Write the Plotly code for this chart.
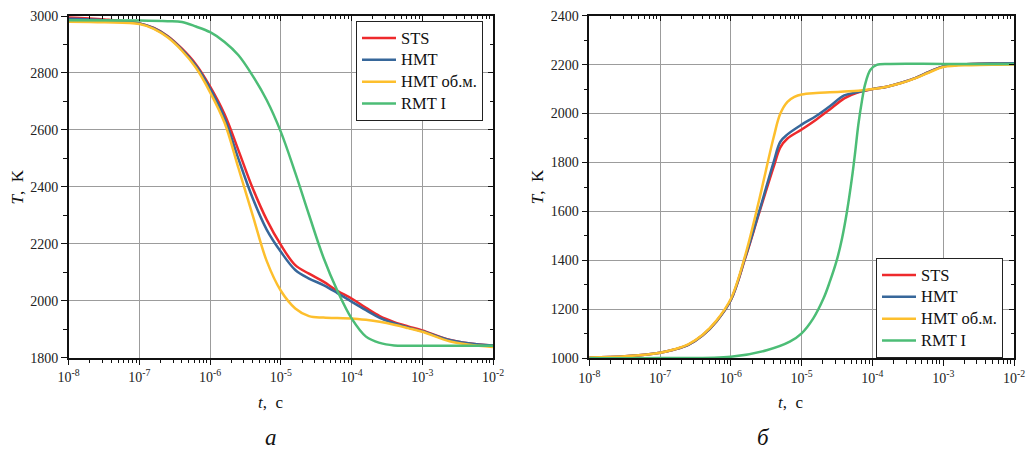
import plotly.graph_objects as go

# common time grid (s) for the three close curves in both panels
t_grid = [1e-8, 3.2e-8, 1e-7, 1.6e-7, 2.5e-7, 4e-7, 6.3e-7, 1e-6, 1.6e-6, 2.5e-6,
          4e-6, 6.3e-6, 1e-5, 1.6e-5, 2.5e-5, 4e-5, 6.3e-5, 1e-4, 1.6e-4, 2.5e-4,
          4e-4, 6.3e-4, 1e-3, 2.5e-3, 6.3e-3, 1e-2]

# ---------------- panel "а": cooling, T falls from 3000 K ----------------
T_a_sts = [2995, 2988, 2974, 2958, 2930, 2885, 2830, 2752, 2655, 2530,
           2395, 2285, 2196, 2125, 2095, 2067, 2035, 2008, 1975, 1946,
           1925, 1910, 1896, 1862, 1846, 1843]
T_a_hmt = [2990, 2985, 2974, 2957, 2928, 2882, 2825, 2745, 2642, 2500,
           2360, 2250, 2172, 2108, 2078, 2055, 2027, 1997, 1967, 1940,
           1921, 1906, 1893, 1861, 1846, 1843]
T_a_hmt_ob = [2980, 2978, 2972, 2955, 2925, 2878, 2818, 2732, 2625, 2468,
              2300, 2140, 2035, 1973, 1946, 1941, 1939, 1938, 1933, 1926,
              1916, 1904, 1891, 1857, 1842, 1838]
t_a_rmt = [1e-8, 1e-7, 2.5e-7, 4e-7, 6.3e-7, 1e-6, 1.6e-6, 2.5e-6, 4e-6, 6.3e-6,
           1e-5, 1.6e-5, 2.5e-5, 4e-5, 6.3e-5, 1e-4, 1.6e-4, 2.5e-4, 4e-4, 6.3e-4,
           1e-3, 1e-2]
T_a_rmt = [2985, 2984, 2982, 2979, 2963, 2943, 2909, 2863, 2790, 2705,
           2593, 2449, 2302, 2152, 2035, 1938, 1874, 1852, 1843, 1842,
           1842, 1842]

# ---------------- panel "б": heating, T rises from 1000 K ----------------
t_b_sts = [1e-8, 3.2e-8, 1e-7, 1.6e-7, 2.5e-7, 4e-7, 6.3e-7, 1e-6, 1.6e-6, 2.5e-6,
           4e-6, 5e-6, 6.3e-6, 1e-5, 1.6e-5, 2.5e-5, 4e-5, 6.3e-5, 1e-4, 1.6e-4,
           2.5e-4, 4e-4, 6.3e-4, 1e-3, 2.5e-3, 6.3e-3, 1e-2]
T_b_sts = [1003, 1008, 1023, 1036, 1055, 1094, 1152, 1238, 1410, 1592,
           1780, 1862, 1898, 1935, 1975, 2017, 2062, 2087, 2100, 2110,
           2125, 2145, 2170, 2193, 2203, 2205, 2206]
T_b_hmt = [1003, 1008, 1023, 1036, 1055, 1094, 1152, 1238, 1413, 1598,
           1800, 1885, 1915, 1955, 1990, 2030, 2074, 2088, 2100, 2110,
           2125, 2145, 2170, 2193, 2203, 2205, 2206]
t_b_hmt_ob = [1e-8, 3.2e-8, 1e-7, 1.6e-7, 2.5e-7, 4e-7, 6.3e-7, 1e-6, 1.6e-6, 2.5e-6,
              4e-6, 5e-6, 6.3e-6, 7.9e-6, 1e-5, 1.6e-5, 2.5e-5, 4e-5, 6.3e-5, 1e-4,
              1.6e-4, 2.5e-4, 4e-4, 6.3e-4, 1e-3, 2.5e-3, 6.3e-3, 1e-2]
T_b_hmt_ob = [1003, 1008, 1023, 1037, 1057, 1096, 1155, 1243, 1422, 1645,
              1900, 2000, 2048, 2068, 2078, 2084, 2087, 2090, 2093, 2100,
              2110, 2124, 2144, 2168, 2190, 2198, 2200, 2201]
t_b_rmt = [1e-8, 1e-7, 1e-6, 3.2e-6, 6.8e-6, 1e-5, 1.46e-5, 2.04e-5, 2.5e-5, 3.13e-5,
           3.72e-5, 4.37e-5, 5.13e-5, 5.68e-5, 6.31e-5, 7.08e-5, 7.85e-5, 9.33e-5,
           1.15e-4, 1.78e-4, 1e-3, 1e-2]
T_b_rmt = [1000, 1001, 1006, 1033, 1068, 1102, 1163, 1245, 1313, 1400,
           1490, 1600, 1736, 1838, 1953, 2049, 2117, 2178,
           2199, 2203, 2203, 2203]

series_names = ["STS", "HMT", "HMT об.м.", "RMT I"]
colors = ["#EE2A2C", "#37679A", "#FDBF2D", "#4CBD76"]

x_tick_vals = [1e-8, 1e-7, 1e-6, 1e-5, 1e-4, 1e-3, 1e-2]
x_tick_text = ["10<sup>-8</sup>", "10<sup>-7</sup>", "10<sup>-6</sup>", "10<sup>-5</sup>",
               "10<sup>-4</sup>", "10<sup>-3</sup>", "10<sup>-2</sup>"]
minor_x_vals = [m * 10.0 ** e for e in range(-8, -2) for m in range(2, 10)]

W, H = 1030, 449
FONT = "Liberation Serif, Times New Roman, serif"

# plot-area boxes in pixels: (left, right, top, bottom)
box_a = (68.7, 493.0, 16.0, 357.7)
box_b = (589.3, 1014.0, 15.7, 358.3)


def px_x(x):
    return x / W


def px_y(y):
    return 1 - y / H


def entry(name):
    # legend rows stay compact while the entry text is drawn a little larger
    return '<span style="font-size:16.5px">' + name + "</span>"


fig = go.Figure()

panel_a = [(t_grid, T_a_sts), (t_grid, T_a_hmt), (t_grid, T_a_hmt_ob), (t_a_rmt, T_a_rmt)]
panel_b = [(t_b_sts, T_b_sts), (t_b_sts, T_b_hmt), (t_b_hmt_ob, T_b_hmt_ob), (t_b_rmt, T_b_rmt)]

for i, (tx, ty) in enumerate(panel_a):
    fig.add_trace(go.Scatter(x=tx, y=ty, mode="lines", name=entry(series_names[i]),
                             line=dict(color=colors[i], width=2.5, shape="spline", smoothing=1),
                             xaxis="x", yaxis="y", legend="legend"))
for i, (tx, ty) in enumerate(panel_b):
    fig.add_trace(go.Scatter(x=tx, y=ty, mode="lines", name=entry(series_names[i]),
                             line=dict(color=colors[i], width=2.5, shape="spline", smoothing=1),
                             xaxis="x2", yaxis="y2", legend="legend2"))

# empty traces so the mirrored inner-tick axes get drawn
for xa, ya in [("x3", "y"), ("x", "y3"), ("x4", "y2"), ("x2", "y4")]:
    fig.add_trace(go.Scatter(x=[], y=[], xaxis=xa, yaxis=ya, showlegend=False,
                             hoverinfo="skip"))

tick_font = dict(family=FONT, size=14, color="#222")
GRID = "#9c9c9c"


def x_main(box):
    return dict(type="log", range=[-8, -2], tickmode="array",
                tickvals=x_tick_vals, ticktext=x_tick_text,
                domain=[px_x(box[0]), px_x(box[1])], automargin=False,
                showline=True, linecolor="#111", linewidth=1.5, mirror=True,
                ticks="outside", ticklen=6, tickwidth=1.2, tickcolor="#111",
                minor=dict(tickvals=minor_x_vals, ticks="outside", ticklen=3.5,
                           tickwidth=1, tickcolor="#111", showgrid=False),
                showgrid=True, gridcolor=GRID, gridwidth=1.2,
                tickfont=tick_font, zeroline=False)


def y_main(box, lo, hi):
    return dict(range=[lo, hi], dtick=200, automargin=False,
                domain=[px_y(box[3]), px_y(box[2])],
                showline=True, linecolor="#111", linewidth=1.5, mirror=True,
                ticks="outside", ticklen=6, tickwidth=1.2, tickcolor="#111",
                minor=dict(dtick=100, ticks="outside", ticklen=3.5, tickwidth=1,
                           tickcolor="#111", showgrid=False),
                showgrid=True, gridcolor=GRID, gridwidth=1.2,
                tickfont=tick_font, zeroline=False)


def x_top(over, anchor):
    return dict(type="log", range=[-8, -2], tickmode="array", tickvals=x_tick_vals,
                overlaying=over, anchor=anchor,
                side="top", showticklabels=False, showgrid=False, showline=False,
                automargin=False,
                ticks="inside", ticklen=5, tickwidth=1.2, tickcolor="#111",
                minor=dict(tickvals=minor_x_vals, ticks="inside", ticklen=3,
                           tickwidth=1, tickcolor="#111", showgrid=False),
                zeroline=False)


def y_right(over, anchor, lo, hi):
    return dict(range=[lo, hi], dtick=200, overlaying=over, anchor=anchor,
                side="right", showticklabels=False, showgrid=False, showline=False,
                automargin=False,
                ticks="inside", ticklen=5, tickwidth=1.2, tickcolor="#111",
                minor=dict(dtick=100, ticks="inside", ticklen=3, tickwidth=1,
                           tickcolor="#111", showgrid=False), zeroline=False)


legend_style = dict(font=dict(family=FONT, size=14.5, color="#111"),
                    bgcolor="white", bordercolor="#222", borderwidth=1,
                    xanchor="left", yanchor="top", itemwidth=34,
                    tracegroupgap=0)

fig.update_layout(
    template="none",
    width=W, height=H, autosize=False,
    margin=dict(l=0, r=0, t=0, b=0, pad=0),
    paper_bgcolor="white", plot_bgcolor="white",
    font=dict(family=FONT, color="#111"),
    xaxis=dict(x_main(box_a), anchor="y"),
    yaxis=dict(y_main(box_a, 1800, 3000), anchor="x"),
    xaxis2=dict(x_main(box_b), anchor="y2"),
    yaxis2=dict(y_main(box_b, 1000, 2400), anchor="x2"),
    xaxis3=x_top("x", "y"),
    yaxis3=y_right("y", "x", 1800, 3000),
    xaxis4=x_top("x2", "y2"),
    yaxis4=y_right("y2", "x2", 1000, 2400),
    legend=dict(legend_style, x=px_x(356), y=px_y(21)),
    legend2=dict(legend_style, x=px_x(876), y=px_y(258)),
    showlegend=True,
)


def label(text, x, y, size=17, angle=0):
    fig.add_annotation(text=text, x=px_x(x), y=px_y(y), xref="paper", yref="paper",
                       xanchor="center", yanchor="middle", showarrow=False,
                       textangle=angle, font=dict(family=FONT, size=size, color="#111"))


for box, cx_title in [(box_a, 270), (box_b, 790)]:
    label("<i>T</i>,  K", box[0] - 51, (box[2] + box[3]) / 2, angle=-90)
    label("<i>t</i>,  c", cx_title, 402)
label("<i>а</i>", 271, 437, size=23)
label("<i>б</i>", 763, 437, size=23)

fig.write_html("out.html")
